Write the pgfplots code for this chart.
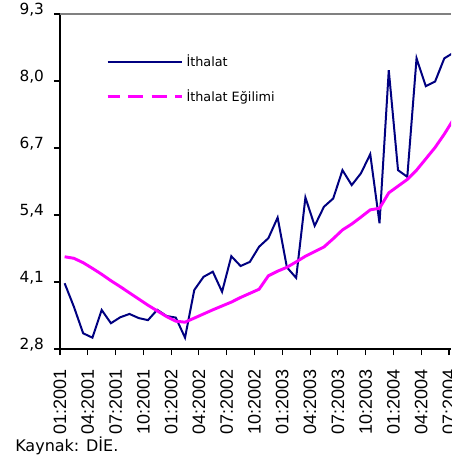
\documentclass[border=0pt]{standalone}
\usepackage{pgfplots}
\pgfplotsset{compat=1.18}
\usepackage{fontspec}
\setmainfont{DejaVu Sans}
\newfontfamily\arialfont{Liberation Sans}
\definecolor{navy}{RGB}{0,0,128}
\definecolor{mag}{RGB}{255,0,255}
\begin{document}
\begin{tikzpicture}
\useasboundingbox (-45pt,-86.25pt) rectangle (293.25pt,261.75pt);
\begin{axis}[
  scale only axis, width=293.25pt, height=251.25pt,
  xmin=-0.5, xmax=41.72, ymin=2.8, ymax=9.3,
  axis x line*=bottom, axis y line*=left,
  axis line style={line width=1pt, -},
  xtick={-0.5,2.5,5.5,8.5,11.5,14.5,17.5,20.5,23.5,26.5,29.5,32.5,35.5,38.5,41.5},
  xticklabels={01:2001,04:2001,07:2001,10:2001,01:2002,04:2002,07:2002,10:2002,01:2003,04:2003,07:2003,10:2003,01:2004,04:2004,07:2004},
  ytick={2.8,4.1,5.4,6.7,8.0,9.3},
  yticklabels={{2,8},{4,1},{5,4},{6,7},{8,0},{9,3}},
  tick align=outside, major tick length=4.5pt,
  tick style={black, line width=0.8pt},
  xticklabel shift=7pt,
  yticklabel shift=4pt,
  xticklabel style={rotate=90, anchor=east, font=\arialfont\fontsize{13.5}{14}\selectfont},
  yticklabel style={font=\fontsize{11.5}{13}\selectfont, yshift=3pt},
  legend style={draw=none, fill=none, at={(rel axis cs:0.1176,0.886)}, anchor=north west,
    font=\fontsize{9.6}{11}\selectfont, row sep=11.5pt, inner sep=0pt, cells={anchor=west}},
  legend image code/.code={\draw[#1] (0pt,0pt) -- (56pt,0pt);},
]
\draw[gray, line width=1pt] (rel axis cs:0,1) -- (rel axis cs:1,1);
\addlegendimage{navy, line width=1.5pt}
\addlegendentry{İthalat}
\addlegendimage{mag, line width=2.2pt, dash pattern=on 11.25pt off 6.25pt, dash phase=2pt}
\addlegendentry{İthalat Eğilimi}
\addplot[navy, line width=1.5pt, forget plot] table {
x y
0 4.075
1 3.62
2 3.105
3 3.02
4 3.557
5 3.30
6 3.415
7 3.48
8 3.40
9 3.36
10 3.56
11 3.44
12 3.41
13 3.02
14 3.945
15 4.20
16 4.30
17 3.91
18 4.60
19 4.41
20 4.49
21 4.785
22 4.95
23 5.35
24 4.385
25 4.18
26 5.74
27 5.19
28 5.56
29 5.72
30 6.27
31 5.98
32 6.21
33 6.58
34 5.24
35 8.21
36 6.27
37 6.14
38 8.44
39 7.90
40 7.99
41 8.44
42 8.55
};
\addplot[mag, line width=2.2pt, forget plot] table {
x y
0 4.59
1 4.56
2 4.475
3 4.365
4 4.25
5 4.125
6 4.01
7 3.89
8 3.77
9 3.65
10 3.54
11 3.43
12 3.34
13 3.32
14 3.40
15 3.48
16 3.56
17 3.635
18 3.71
19 3.80
20 3.88
21 3.96
22 4.22
23 4.31
24 4.385
25 4.49
26 4.60
27 4.69
28 4.78
29 4.94
30 5.11
31 5.225
32 5.36
33 5.50
34 5.53
35 5.83
36 5.96
37 6.09
38 6.27
39 6.49
40 6.71
41 6.97
42 7.26
};
\end{axis}
\node[anchor=base west, inner sep=0pt, font=\fontsize{12}{14}\selectfont] at (-33.75pt,-77pt) {Kaynak: DİE.};
\end{tikzpicture}
\end{document}
